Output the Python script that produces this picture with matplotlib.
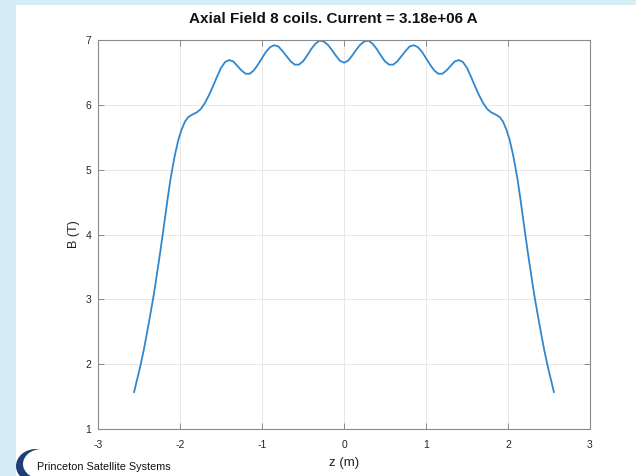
import matplotlib
matplotlib.use('Agg')
import matplotlib.pyplot as plt
from matplotlib.patches import Rectangle, Ellipse

plt.rcParams['font.family'] = ['Liberation Sans', 'DejaVu Sans']
plt.rcParams['axes.unicode_minus'] = False

# axial field
z = [-2.56, -2.52, -2.48, -2.44, -2.40, -2.36, -2.32, -2.28, -2.24, -2.21,
     -2.18, -2.15, -2.12, -2.09, -2.06, -2.02, -1.98, -1.94, -1.90, -1.85,
     -1.80, -1.75, -1.70, -1.65,
     -1.60, -1.55, -1.50, -1.45, -1.40, -1.35, -1.30, -1.25, -1.20, -1.15,
     -1.10, -1.05, -1.00, -0.95, -0.90, -0.85, -0.80, -0.75, -0.70, -0.65,
     -0.60, -0.55, -0.50, -0.45, -0.40, -0.35, -0.30, -0.25, -0.20, -0.15,
     -0.10, -0.05, 0.00,
     0.05, 0.10, 0.15, 0.20, 0.25, 0.30, 0.35, 0.40, 0.45, 0.50,
     0.55, 0.60, 0.65, 0.70, 0.75, 0.80, 0.85, 0.90, 0.95, 1.00,
     1.05, 1.10, 1.15, 1.20, 1.25, 1.30, 1.35, 1.40, 1.45, 1.50,
     1.55, 1.60,
     1.65, 1.70, 1.75, 1.80, 1.85, 1.90, 1.94, 1.98, 2.02, 2.06,
     2.09, 2.12, 2.15, 2.18, 2.21, 2.24, 2.28, 2.32, 2.36, 2.40,
     2.44, 2.48, 2.52, 2.56]
B = [1.57, 1.78, 1.99, 2.23, 2.50, 2.78, 3.07, 3.40, 3.74, 4.01,
     4.28, 4.56, 4.82, 5.04, 5.24, 5.46, 5.62, 5.74, 5.81, 5.85,
     5.88, 5.93, 6.02, 6.14,
     6.28, 6.43, 6.57, 6.66, 6.69, 6.67, 6.60, 6.53, 6.48, 6.48,
     6.53, 6.62, 6.72, 6.82, 6.89, 6.92, 6.90, 6.83, 6.75, 6.67,
     6.62, 6.62, 6.67, 6.76, 6.86, 6.94, 6.99, 6.98, 6.93, 6.85,
     6.76, 6.68, 6.65,
     6.68, 6.76, 6.85, 6.93, 6.98, 6.99, 6.94, 6.86, 6.76, 6.67,
     6.62, 6.62, 6.67, 6.75, 6.83, 6.90, 6.92, 6.89, 6.82, 6.72,
     6.62, 6.53, 6.48, 6.48, 6.53, 6.60, 6.67, 6.69, 6.66, 6.57,
     6.43, 6.28,
     6.14, 6.02, 5.93, 5.88, 5.85, 5.81, 5.74, 5.62, 5.46, 5.24,
     5.04, 4.82, 4.56, 4.28, 4.01, 3.74, 3.40, 3.07, 2.78, 2.50,
     2.23, 1.99, 1.78, 1.57]

xticks = [-3, -2, -1, 0, 1, 2, 3]
yticks = [1, 2, 3, 4, 5, 6, 7]

fig = plt.figure(figsize=(6.36, 4.76), dpi=100)
fig.patch.set_facecolor('white')
# light blue page border (left and top)
fig.patches.append(Rectangle((0, 0), 16 / 636, 1, transform=fig.transFigure,
                             facecolor='#d5edf4', edgecolor='none', zorder=0))
fig.patches.append(Rectangle((0, 1 - 5 / 476), 1, 5 / 476, transform=fig.transFigure,
                             facecolor='#d5edf4', edgecolor='none', zorder=0))

ax = fig.add_axes([98 / 636, 1 - 429 / 476, 492 / 636, 389 / 476])
ax.plot(z, B, color='#2f88cf', lw=1.3)
ax.set_xlim(-3, 3)
ax.set_ylim(1, 7)
ax.set_xticks(xticks)
ax.set_yticks(yticks)
ax.grid(True, color='#e8e8e8', lw=0.7)
ax.tick_params(direction='in', length=4, width=0.7, color='#8a8a8a',
               labelsize=7.5, labelcolor='#262626', top=True, right=True)
ax.tick_params(axis='x', pad=8)
ax.tick_params(axis='y', pad=5)
for s in ax.spines.values():
    s.set_color('#8a8a8a')
    s.set_linewidth(0.8)

fig.text(333 / 636, 1 - 19 / 476, 'Axial Field 8 coils. Current = 3.18e+06 A',
         fontsize=11, fontweight='bold', color='#111111', ha='center', va='center')
ax.set_xlabel('z (m)', fontsize=9.5, color='#222222', labelpad=5)
ax.set_ylabel('B (T)', fontsize=9, color='#222222', labelpad=4)

# logo
fig.patches.append(Ellipse((36 / 636, 1 - 466 / 476), 40 / 636, 34 / 476,
                           transform=fig.transFigure, facecolor='#1d3f78',
                           edgecolor='none', zorder=1))
fig.patches.append(Ellipse((42 / 636, 1 - 464 / 476), 38 / 636, 30 / 476,
                           transform=fig.transFigure, facecolor='white',
                           edgecolor='none', zorder=2))
fig.text(37 / 636, 1 - 467 / 476, 'Princeton Satellite Systems', fontsize=7.8,
         color='#111111', va='center', ha='left', zorder=3)

fig.savefig('out.png', dpi=100)
